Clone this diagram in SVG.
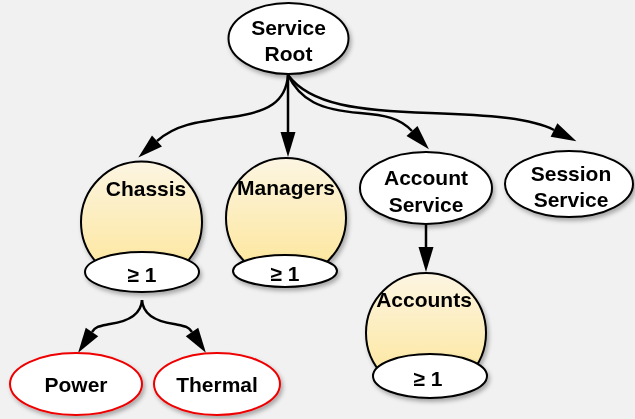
<svg xmlns="http://www.w3.org/2000/svg" width="635" height="419" viewBox="0 0 635 419">
<defs>
<linearGradient id="yel" x1="0" y1="0" x2="0" y2="1">
<stop offset="0" stop-color="#fcf5e2"/>
<stop offset="1" stop-color="#fde596"/>
</linearGradient>
<filter id="sh" x="-20%" y="-20%" width="150%" height="150%">
<feDropShadow dx="2" dy="3" stdDeviation="2" flood-color="#000" flood-opacity="0.3"/>
</filter>
<marker id="ah" markerUnits="userSpaceOnUse" markerWidth="30" markerHeight="20" refX="0" refY="0" viewBox="0 -10 30 20" orient="auto" overflow="visible">
<path d="M0,-7.5 L25,0 L0,7.5 z" fill="#000"/>
</marker>
<style>
.n{fill:#fff;stroke:#000;stroke-width:2}
.r{fill:#fff;stroke:#e00;stroke-width:2}
.y{fill:url(#yel);stroke:#000;stroke-width:2}
.t{font-family:"Liberation Sans",Arial,sans-serif;font-weight:bold;font-size:21px;fill:#000;text-anchor:middle}
.e{fill:none;stroke:#000;stroke-width:2.5;marker-end:url(#ah)}
</style>
</defs>
<rect width="635" height="419" fill="#f1f1f1"/>
<g id="connectors">
<path class="e" d="M288,75 C286,102 268,112 232,117 C195,122 175,125 157,141"/>
<path class="e" d="M288,75 L288,132"/>
<path class="e" d="M288,75 C300,100 320,110 360,113 C385,115 400,118 412,131"/>
<path class="e" d="M288,75 C310,105 360,111 430,113 C490,115 530,118 554,130"/>
<path class="e" d="M426,225 L426,247"/>
<path class="e" d="M142,300 C141,317 124,322 110,324 C100,326 96,326 92,332"/>
<path class="e" d="M142,300 C143,317 160,322 174,324 C184,326 188,326 192,332"/>
</g>
<g id="service-root" filter="url(#sh)">
<ellipse class="n" cx="288.5" cy="38.5" rx="60" ry="35.5"/>
<text class="t" x="288.5" y="35">Service</text>
<text class="t" x="288.5" y="61">Root</text>
</g>
<g id="chassis" filter="url(#sh)">
<circle class="y" cx="141.5" cy="222" r="60.5"/>
<text class="t" x="146" y="196">Chassis</text>
</g>
<g id="chassis-count" filter="url(#sh)">
<ellipse class="n" cx="142" cy="272" rx="57" ry="20"/>
<text class="t" x="142" y="282">≥ 1</text>
</g>
<g id="managers" filter="url(#sh)">
<circle class="y" cx="286" cy="218" r="60"/>
<text class="t" x="286" y="195">Managers</text>
</g>
<g id="managers-count" filter="url(#sh)">
<ellipse class="n" cx="285" cy="271" rx="52" ry="16"/>
<text class="t" x="285" y="281">≥ 1</text>
</g>
<g id="account-service" filter="url(#sh)">
<ellipse class="n" cx="426" cy="188" rx="66" ry="36"/>
<text class="t" x="426" y="185">Account</text>
<text class="t" x="426" y="212">Service</text>
</g>
<g id="session-service" filter="url(#sh)">
<ellipse class="n" cx="569" cy="184" rx="64" ry="33"/>
<text class="t" x="571" y="181">Session</text>
<text class="t" x="571" y="207">Service</text>
</g>
<g id="accounts" filter="url(#sh)">
<circle class="y" cx="426" cy="333" r="60"/>
<text class="t" x="424" y="307">Accounts</text>
</g>
<g id="accounts-count" filter="url(#sh)">
<ellipse class="n" cx="430" cy="376" rx="57" ry="22"/>
<text class="t" x="428" y="386">≥ 1</text>
</g>
<g id="power" filter="url(#sh)">
<ellipse class="r" cx="76" cy="384" rx="66" ry="31"/>
<text class="t" x="76" y="392">Power</text>
</g>
<g id="thermal" filter="url(#sh)">
<ellipse class="r" cx="217" cy="384" rx="63" ry="31"/>
<text class="t" x="217" y="392">Thermal</text>
</g>
</svg>
